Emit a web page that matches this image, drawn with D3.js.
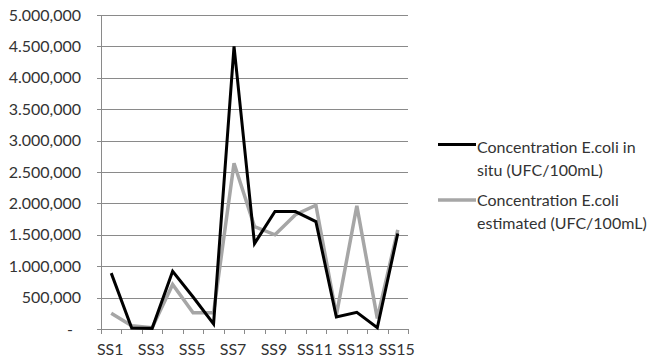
<!DOCTYPE html>
<html>
<head>
<meta charset="utf-8">
<script src="https://cdn.jsdelivr.net/npm/d3@7"></script>
<style>
  html, body { margin: 0; padding: 0; background: #fff; }
  svg { display: block; font-family: Lato, "Open Sans", sans-serif; }
</style>
</head>
<body>
<svg id="chart" width="652" height="364"></svg>
<script>
// Sampling sites
const sites = ["SS1","SS2","SS3","SS4","SS5","SS6","SS7","SS8","SS9","SS10","SS11","SS12","SS13","SS14","SS15"];
// E. coli concentration measured in situ (UFC/100mL)
const inSitu = [890000, 15000, 10000, 920000, 510000, 80000, 4500000, 1360000, 1870000, 1870000, 1710000, 190000, 265000, 20000, 1520000];
// E. coli concentration estimated (UFC/100mL)
const estimated = [250000, 50000, 20000, 710000, 260000, 260000, 2640000, 1630000, 1500000, 1820000, 1970000, 220000, 1960000, 170000, 1580000];
const yTicks = [0, 500000, 1000000, 1500000, 2000000, 2500000, 3000000, 3500000, 4000000, 4500000, 5000000];
const xLabelSites = ["SS1","SS3","SS5","SS7","SS9","SS11","SS13","SS15"];
const seriesNames = [
  ["Concentration E.coli in", "situ (UFC/100mL)"],
  ["Concentration E.coli", "estimated (UFC/100mL)"]
];

const svg = d3.select("#chart");
const plot = { left: 101, right: 408, top: 15, bottom: 329 };
const textColor = "#333";
const gridColor = "#8a8a8a";

const x = d3.scaleBand().domain(sites).range([plot.left, plot.right]);
const y = d3.scaleLinear().domain([0, 5000000]).range([plot.bottom, plot.top]);

// Value format: "4.500,000" style, zero shown as "-"
function fmt(v) {
  if (v === 0) return "-";
  const s = d3.format(",")(v);
  const parts = s.split(",");
  if (parts.length === 3) return parts[0] + "." + parts[1] + "," + parts[2];
  return s;
}

// Horizontal gridlines
svg.append("g")
  .selectAll("line")
  .data(yTicks)
  .join("line")
  .attr("x1", plot.left - 4)
  .attr("x2", plot.right)
  .attr("y1", d => Math.round(y(d)) + 0.5)
  .attr("y2", d => Math.round(y(d)) + 0.5)
  .attr("stroke", gridColor)
  .attr("stroke-width", 1);

// Y axis labels
svg.append("g")
  .selectAll("text")
  .data(yTicks)
  .join("text")
  .attr("x", d => d === 0 ? 73 : 81)
  .attr("y", d => y(d))
  .attr("dy", "0.35em")
  .attr("text-anchor", "end")
  .attr("font-size", 16)
  .attr("fill", textColor)
  .text(fmt);

// Vertical axis line
svg.append("line")
  .attr("x1", plot.left + 0.5).attr("x2", plot.left + 0.5)
  .attr("y1", plot.top).attr("y2", plot.bottom + 0.5)
  .attr("stroke", gridColor);

// X axis tick marks at category boundaries
const bounds = sites.map(s => x(s)).concat([plot.right]);
svg.append("g")
  .selectAll("line")
  .data(bounds)
  .join("line")
  .attr("x1", d => Math.round(d) + 0.5)
  .attr("x2", d => Math.round(d) + 0.5)
  .attr("y1", plot.bottom)
  .attr("y2", plot.bottom + 5)
  .attr("stroke", gridColor);

svg.append("g")
  .selectAll("text")
  .data(xLabelSites)
  .join("text")
  .attr("x", d => x(d) + x.bandwidth() / 2 - 1)
  .attr("y", 354.5)
  .attr("text-anchor", "middle")
  .attr("font-size", 16)
  .attr("fill", textColor)
  .text(d => d);

const line = d3.line()
  .x((d, i) => x(sites[i]) + x.bandwidth() / 2)
  .y(d => y(d));

svg.append("path")
  .datum(estimated)
  .attr("d", line)
  .attr("fill", "none")
  .attr("stroke", "#a6a6a6")
  .attr("stroke-width", 3.5);

svg.append("path")
  .datum(inSitu)
  .attr("d", line)
  .attr("fill", "none")
  .attr("stroke", "#000")
  .attr("stroke-width", 3);

// Legend
const legend = svg.append("g");
const legendItems = [
  { names: seriesNames[0], color: "#000", width: 3, lineY: 144.5, textY: 152.5 },
  { names: seriesNames[1], color: "#a6a6a6", width: 3.5, lineY: 200, textY: 205.5 }
];
legendItems.forEach(item => {
  legend.append("line")
    .attr("x1", 438).attr("x2", 476)
    .attr("y1", item.lineY).attr("y2", item.lineY)
    .attr("stroke", item.color)
    .attr("stroke-width", item.width);
  item.names.forEach((t, j) => {
    legend.append("text")
      .attr("x", 477)
      .attr("y", item.textY + j * 23)
      .attr("font-size", 16)
      .attr("fill", textColor)
      .text(t);
  });
});
</script>
</body>
</html>
